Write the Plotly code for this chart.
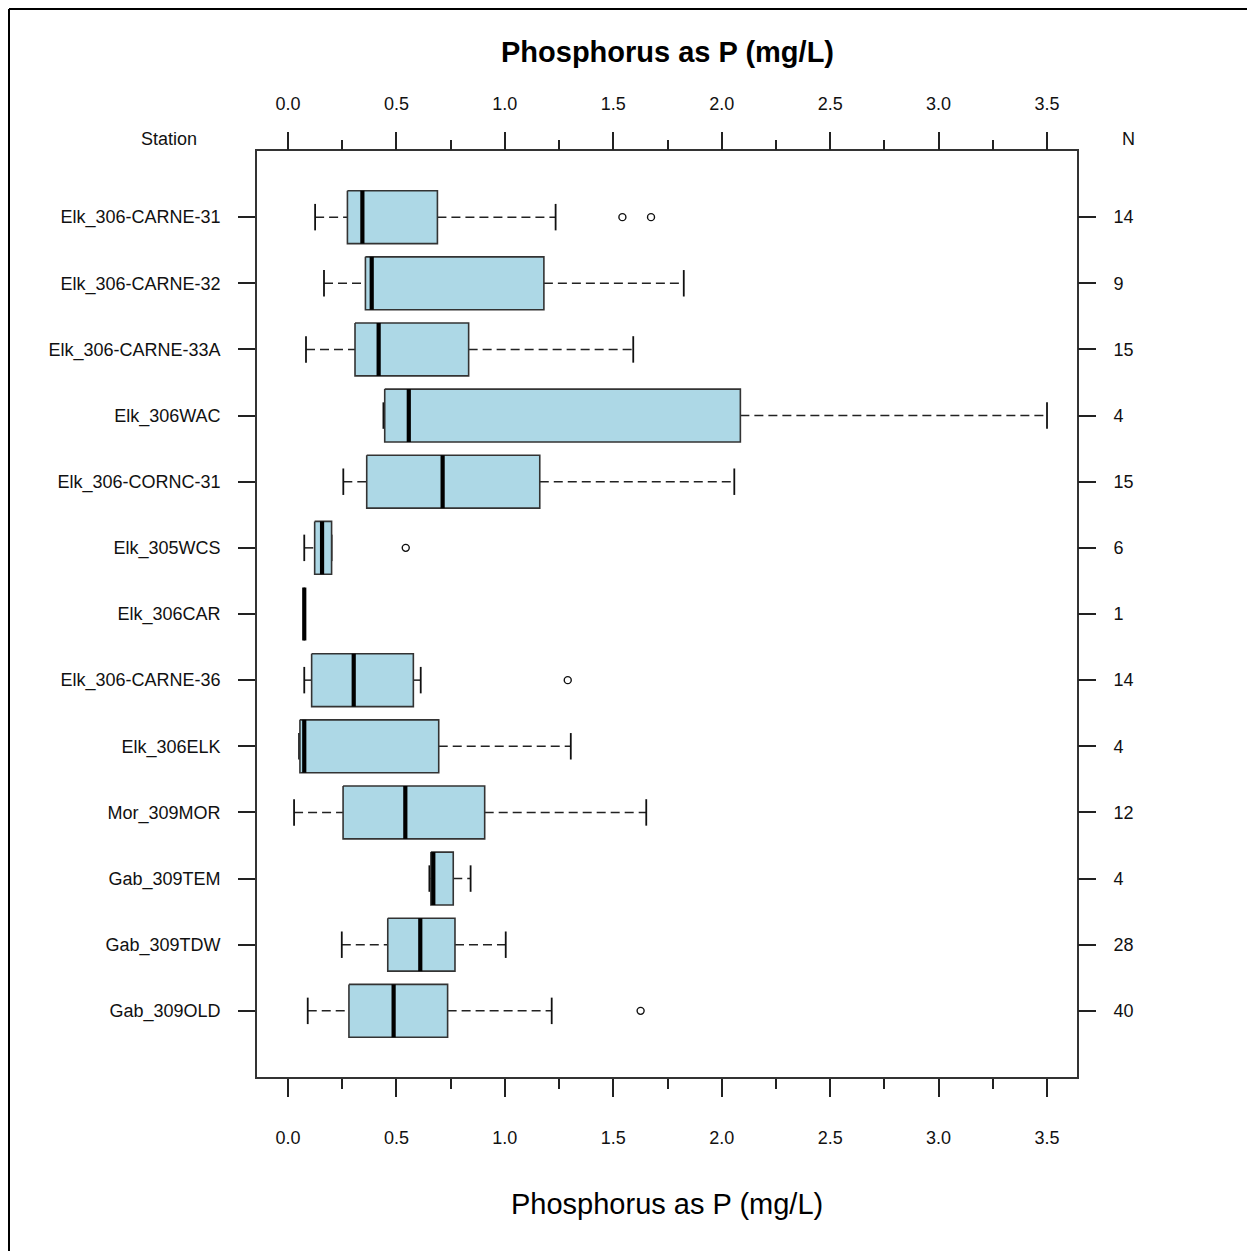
import plotly.graph_objects as go

# ---------------- data ----------------
stations = ["Elk_306-CARNE-31", "Elk_306-CARNE-32", "Elk_306-CARNE-33A", "Elk_306WAC",
            "Elk_306-CORNC-31", "Elk_305WCS", "Elk_306CAR", "Elk_306-CARNE-36",
            "Elk_306ELK", "Mor_309MOR", "Gab_309TEM", "Gab_309TDW", "Gab_309OLD"]
n_counts = [14, 9, 15, 4, 15, 6, 1, 14, 4, 12, 4, 28, 40]
lower_whisker = [0.125, 0.166, 0.083, 0.440, 0.255, 0.075, 0.075, 0.075, 0.051, 0.028, 0.652, 0.248, 0.091]
q1 =            [0.274, 0.357, 0.309, 0.446, 0.363, 0.123, 0.075, 0.109, 0.055, 0.254, 0.659, 0.460, 0.281]
median =        [0.343, 0.386, 0.418, 0.557, 0.713, 0.157, 0.075, 0.303, 0.075, 0.541, 0.670, 0.610, 0.487]
q3 =            [0.689, 1.180, 0.833, 2.086, 1.161, 0.201, 0.075, 0.578, 0.695, 0.907, 0.762, 0.770, 0.736]
upper_whisker = [1.234, 1.825, 1.592, 3.500, 2.058, 0.201, 0.075, 0.612, 1.304, 1.652, 0.842, 1.004, 1.216]
outliers = [[1.542, 1.674], [], [], [], [], [0.543], [], [1.290], [], [], [], [], [1.626]]
x_ticks = [0.0, 0.5, 1.0, 1.5, 2.0, 2.5, 3.0, 3.5]
x_tick_labels = ["0.0", "0.5", "1.0", "1.5", "2.0", "2.5", "3.0", "3.5"]

# ---------------- figure ----------------
OFF = 8  # page body margin
W, H = 1255 - OFF, 1251 - OFF
L, T = 257 - OFF, 151 - OFF
PW, PH = 820, 926
R, B = W - L - PW, H - T - PH
FONT = "Liberation Sans, Arial, sans-serif"
BOX_H = 0.4
CAP_H = 0.2
EDGE = "#333333"


def px(xp):  # reference window pixel -> paper
    return (xp - OFF - L) / PW


def py(yp):
    return (T + PH - (yp - OFF)) / PH


fig = go.Figure()
pos = list(range(1, len(stations) + 1))

# whiskers (dashed)
wx, wy = [], []
for i, p in enumerate(pos):
    wx += [lower_whisker[i], q1[i], None, q3[i], upper_whisker[i], None]
    wy += [p, p, None, p, p, None]
fig.add_trace(go.Scatter(x=wx, y=wy, mode="lines",
                         line=dict(color="#222222", width=1.5, dash="9px,5px"),
                         hoverinfo="skip", showlegend=False))
# caps
cx, cy = [], []
for i, p in enumerate(pos):
    cx += [lower_whisker[i], lower_whisker[i], None, upper_whisker[i], upper_whisker[i], None]
    cy += [p - CAP_H, p + CAP_H, None, p - CAP_H, p + CAP_H, None]
fig.add_trace(go.Scatter(x=cx, y=cy, mode="lines",
                         line=dict(color="#111111", width=1.8),
                         hoverinfo="skip", showlegend=False))
# boxes
for i, p in enumerate(pos):
    fig.add_trace(go.Scatter(
        x=[q1[i], q3[i], q3[i], q1[i], q1[i]],
        y=[p - BOX_H, p - BOX_H, p + BOX_H, p + BOX_H, p - BOX_H],
        mode="lines", fill="toself", fillcolor="#ADD8E6",
        line=dict(color=EDGE, width=1.6), hoverinfo="skip", showlegend=False))
# medians
mx, my = [], []
for i, p in enumerate(pos):
    mx += [median[i], median[i], None]
    my += [p - BOX_H, p + BOX_H, None]
fig.add_trace(go.Scatter(x=mx, y=my, mode="lines",
                         line=dict(color="black", width=4.2),
                         hoverinfo="skip", showlegend=False))
# outliers
ox, oy = [], []
for i, p in enumerate(pos):
    for v in outliers[i]:
        ox.append(v)
        oy.append(p)
fig.add_trace(go.Scatter(x=ox, y=oy, mode="markers",
                         marker=dict(symbol="circle-open", size=7, color="#111111",
                                     line=dict(width=1.4)),
                         hoverinfo="skip", showlegend=False))
# invisible trace on secondary axes (top x, right y)
fig.add_trace(go.Scatter(x=median, y=pos, mode="markers", xaxis="x2", yaxis="y2",
                         marker=dict(opacity=0), hoverinfo="skip", showlegend=False))

xr = [(257 - 288) / 216.86, (257 + PW - 288) / 216.86]
yr = [14, 0]
tickfont = dict(family=FONT, size=18, color="#111111")

common_x = dict(range=xr, tickvals=x_ticks, ticktext=x_tick_labels, ticks="outside",
                ticklen=18, tickwidth=1.5, tickcolor="#222222", tickfont=tickfont,
                showgrid=False, zeroline=False, automargin=False,
                minor=dict(tickvals=[0.25, 0.75, 1.25, 1.75, 2.25, 2.75, 3.25],
                           ticks="outside", ticklen=10, tickwidth=1.5, tickcolor="#222222",
                           showgrid=False))

fig.update_layout(
    width=W, height=H,
    margin=dict(l=L, r=R, t=T, b=B, pad=0),
    paper_bgcolor="white", plot_bgcolor="white",
    hovermode=False,
    xaxis=dict(**common_x, side="bottom", showline=True, linecolor=EDGE, linewidth=1.6,
               mirror=True, ticklabelstandoff=26),
    xaxis2=dict(**common_x, side="top", overlaying="x", anchor="y", showline=False,
                ticklabelstandoff=15),
    yaxis=dict(range=yr, tickvals=pos, ticktext=stations, ticks="outside", ticklen=17,
               tickwidth=1.5, tickcolor="#222222", tickfont=tickfont, showgrid=False,
               zeroline=False, showline=True, linecolor=EDGE, linewidth=1.6, mirror=True,
               automargin=False, ticklabelstandoff=14),
    yaxis2=dict(range=yr, tickvals=pos, ticktext=[str(n) for n in n_counts],
                ticks="outside", ticklen=18, tickwidth=1.5, tickcolor="#222222",
                tickfont=tickfont, showgrid=False, zeroline=False, showline=False,
                overlaying="y", side="right", anchor="x", automargin=False,
                ticklabelstandoff=14),
    annotations=[
        dict(text="<b>Phosphorus as P (mg/L)</b>", x=px(667), y=py(52), xref="paper", yref="paper",
             showarrow=False, xanchor="center", yanchor="middle",
             font=dict(family=FONT, size=29, color="black")),
        dict(text="Phosphorus as P (mg/L)", x=px(667), y=py(1204), xref="paper", yref="paper",
             showarrow=False, xanchor="center", yanchor="middle",
             font=dict(family=FONT, size=29, color="black")),
        dict(text="Station", x=px(169), y=py(139), xref="paper", yref="paper",
             showarrow=False, xanchor="center", yanchor="middle",
             font=dict(family=FONT, size=18, color="#111111")),
        dict(text="N", x=px(1128), y=py(139), xref="paper", yref="paper",
             showarrow=False, xanchor="center", yanchor="middle",
             font=dict(family=FONT, size=18, color="#111111")),
    ],
    shapes=[
        dict(type="line", xref="paper", yref="paper", x0=px(9), x1=px(1270), y0=py(9), y1=py(9),
             line=dict(color="black", width=2)),
        dict(type="line", xref="paper", yref="paper", x0=px(9), x1=px(9), y0=py(9), y1=py(1270),
             line=dict(color="black", width=2)),
    ],
)

fig.write_html("out.html")
